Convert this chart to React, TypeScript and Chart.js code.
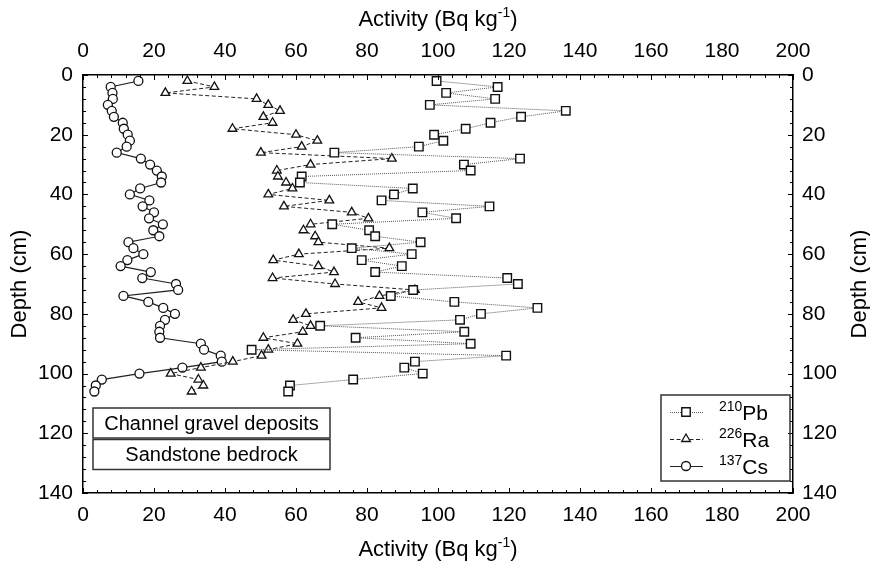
import React, { useEffect, useRef } from "react";
import { Chart, registerables } from "chart.js";

Chart.register(...registerables);

// ---------- data ----------
const depths = [
  2, 4, 6, 8, 10, 12, 14, 16, 18, 20, 22, 24, 26, 28, 30, 32, 34, 36, 38, 40,
  42, 44, 46, 48, 50, 52, 54, 56, 58, 60, 62, 64, 66, 68, 70, 72, 74, 76, 78, 80,
  82, 84, 86, 88, 90, 92, 94, 96, 98, 100, 102, 104, 106,
];

const pb210 = [
  99.6, 116.8, 102.3, 116.1, 97.7, 136.0, 123.4, 114.8, 107.8, 98.9,
  101.5, 94.6, 70.8, 123.1, 107.3, 109.2, 61.6, 61.1, 92.9, 87.6,
  84.1, 114.5, 95.6, 105.1, 70.2, 80.6, 82.3, 95.1, 75.7, 92.6,
  78.5, 89.8, 82.3, 119.5, 122.5, 93.0, 86.7, 104.6, 128.0, 112.1,
  106.2, 66.8, 107.4, 76.8, 109.2, 47.5, 119.2, 93.5, 90.5, 95.7,
  76.1, 58.3, 57.8,
];

const ra226 = [
  29.4, 37.0, 23.2, 48.9, 52.2, 55.5, 50.8, 53.4, 42.1, 60.0,
  66.0, 61.6, 50.1, 87.0, 64.1, 54.6, 54.9, 57.2, 59.0, 52.2,
  69.4, 56.6, 75.7, 80.4, 64.1, 62.1, 65.4, 66.3, 86.3, 60.8,
  53.6, 66.3, 70.7, 53.4, 71.0, 93.5, 83.5, 77.5, 84.1, 62.8,
  59.2, 64.1, 61.9, 50.8, 60.4, 52.2, 50.3, 42.2, 33.2, 24.7,
  32.5, 33.9, 30.6,
];

const cs137 = [
  15.6, 7.8, 8.3, 8.4, 7.0, 8.1, 8.7, 11.2, 11.5, 12.6,
  13.2, 12.3, 9.5, 16.3, 18.9, 20.8, 22.2, 22.0, 16.1, 13.2,
  18.7, 16.8, 20.0, 18.6, 22.5, 19.8, 21.5, 12.8, 14.2, 17.0,
  12.5, 10.6, 19.1, 16.7, 26.2, 26.8, 11.4, 18.4, 22.6, 25.9,
  23.1, 21.7, 21.5, 21.7, 33.2, 34.1, 38.8, 39.1, 28.0, 15.9,
  5.3, 3.6, 3.2,
];

const xMin = 0;
const xMax = 200;
const xStep = 20;
const yMin = 0;
const yMax = 140;
const yStep = 20;

const xTitleMain = "Activity (Bq kg";
const xTitleSup = "-1";
const xTitleEnd = ")";
const yTitle = "Depth (cm)";
const boxLabels = ["Channel gravel deposits", "Sandstone bedrock"];
const legendMass = ["210", "226", "137"];
const legendElement = ["Pb", "Ra", "Cs"];

// ---------- styles ----------
const FONT = "'Liberation Sans', Arial, Helvetica, sans-serif";
const TICK_SIZE = 21;
const TITLE_SIZE = 22;

type Part = { t: string; sup?: boolean };

function drawParts(
  ctx: CanvasRenderingContext2D,
  parts: Part[],
  cx: number,
  cy: number,
  size: number,
  supSize: number,
  rot: number,
  align: "center" | "left" = "center"
) {
  ctx.save();
  ctx.translate(cx, cy);
  ctx.rotate(rot);
  ctx.textBaseline = "alphabetic";
  ctx.textAlign = "left";
  ctx.fillStyle = "#000";
  let w = 0;
  const ws = parts.map((p) => {
    ctx.font = `${p.sup ? supSize : size}px ${FONT}`;
    const m = ctx.measureText(p.t).width;
    w += m;
    return m;
  });
  let x = align === "center" ? -w / 2 : 0;
  const base = size * 0.36;
  parts.forEach((p, i) => {
    ctx.font = `${p.sup ? supSize : size}px ${FONT}`;
    ctx.fillText(p.t, x, p.sup ? base - size * 0.4 : base);
    x += ws[i];
  });
  ctx.restore();
}

function drawMarker(ctx: CanvasRenderingContext2D, style: string, x: number, y: number, r: number) {
  ctx.beginPath();
  if (style === "rect") {
    const s = Math.SQRT1_2 * r;
    ctx.rect(x - s, y - s, 2 * s, 2 * s);
  } else if (style === "triangle") {
    for (let k = 0; k < 3; k++) {
      const a = (k * 2 * Math.PI) / 3;
      const px = x + Math.sin(a) * r;
      const py = y - Math.cos(a) * r;
      if (k === 0) ctx.moveTo(px, py);
      else ctx.lineTo(px, py);
    }
    ctx.closePath();
  } else {
    ctx.arc(x, y, r, 0, Math.PI * 2);
  }
  ctx.fillStyle = "#fff";
  ctx.fill();
  ctx.stroke();
}

const decorPlugin = {
  id: "decor",
  afterDraw(chart: any) {
    const ctx: CanvasRenderingContext2D = chart.ctx;
    const area = chart.chartArea;
    const sx = chart.scales.x;
    const sy = chart.scales.y;

    // inward ticks
    ctx.save();
    ctx.strokeStyle = "#000";
    ctx.lineWidth = 1;
    for (let v = xMin; v <= xMax; v += 4) {
      const major = v % xStep === 0;
      const len = major ? 5 : 3;
      const px = Math.round(sx.getPixelForValue(v)) + 0.5;
      ctx.beginPath();
      ctx.moveTo(px, area.bottom);
      ctx.lineTo(px, area.bottom - len);
      ctx.moveTo(px, area.top);
      ctx.lineTo(px, area.top + len);
      ctx.stroke();
    }
    for (let v = yMin; v <= yMax; v += 4) {
      const major = v % yStep === 0;
      const len = major ? 5 : 3;
      const py = Math.round(sy.getPixelForValue(v)) + 0.5;
      ctx.beginPath();
      ctx.moveTo(area.left, py);
      ctx.lineTo(area.left + len, py);
      ctx.moveTo(area.right, py);
      ctx.lineTo(area.right - len, py);
      ctx.stroke();
    }
    ctx.restore();

    // axis titles
    const cx = (area.left + area.right) / 2;
    const cy = (area.top + area.bottom) / 2;
    const xParts: Part[] = [{ t: xTitleMain }, { t: xTitleSup, sup: true }, { t: xTitleEnd }];
    drawParts(ctx, xParts, cx, 18, TITLE_SIZE, 14, 0);
    drawParts(ctx, xParts, cx, chart.height - 13, TITLE_SIZE, 14, 0);
    drawParts(ctx, [{ t: yTitle }], 18, cy, TITLE_SIZE, 14, -Math.PI / 2);
    drawParts(ctx, [{ t: yTitle }], chart.width - 12, cy, TITLE_SIZE, 14, -Math.PI / 2);

    // zone boxes
    ctx.save();
    ctx.strokeStyle = "#333";
    ctx.lineWidth = 1.5;
    const bx = area.left + 10;
    const bw = 237;
    const bh = 30;
    const tops = [area.top + 333, area.top + 364.5];
    boxLabels.forEach((lab, i) => {
      ctx.strokeRect(bx, tops[i], bw, bh);
      ctx.fillStyle = "#000";
      ctx.font = `20px ${FONT}`;
      ctx.textAlign = "center";
      ctx.textBaseline = "middle";
      ctx.fillText(lab, bx + bw / 2, tops[i] + bh / 2 + 1);
    });
    ctx.restore();

    // legend
    ctx.save();
    const lx = area.right - 132;
    const ly = area.bottom - 98;
    ctx.strokeStyle = "#333";
    ctx.lineWidth = 1.5;
    ctx.strokeRect(lx, ly, 129, 86);
    chart.data.datasets.forEach((ds: any, i: number) => {
      const ry = ly + 17 + i * 27;
      ctx.save();
      ctx.strokeStyle = ds.borderColor;
      ctx.lineWidth = ds.borderWidth;
      ctx.setLineDash(ds.borderDash || []);
      ctx.beginPath();
      ctx.moveTo(lx + 9, ry + 0.5);
      ctx.lineTo(lx + 42, ry + 0.5);
      ctx.stroke();
      ctx.setLineDash([]);
      ctx.strokeStyle = ds.pointBorderColor;
      ctx.lineWidth = ds.pointBorderWidth;
      drawMarker(ctx, ds.pointStyle, lx + 25, ry, ds.pointRadius);
      ctx.restore();
      drawParts(
        ctx,
        [{ t: legendMass[i], sup: true }, { t: legendElement[i] }],
        lx + 58,
        ry,
        21,
        14,
        0,
        "left"
      );
    });
    ctx.restore();
  },
};

function axisCommon(position: string, pad: number) {
  return {
    position,
    grid: { display: true, drawOnChartArea: false, drawTicks: false },
    border: { display: true, color: "#000", width: 1.5 },
    ticks: {
      color: "#000",
      font: { family: FONT, size: TICK_SIZE },
      padding: pad,
      autoSkip: false,
      maxRotation: 0,
    },
  };
}

export default function App() {
  const ref = useRef<HTMLCanvasElement | null>(null);

  useEffect(() => {
    if (!ref.current) return;
    const mk = (vals: number[]) => depths.map((d, i) => ({ x: vals[i], y: d }));
    const chart = new Chart(ref.current, {
      type: "line",
      data: {
        datasets: [
          {
            label: "210Pb",
            data: mk(pb210),
            borderColor: "#555",
            borderWidth: 1,
            borderDash: [1, 1],
            pointStyle: "rect",
            pointRadius: 6,
            pointBorderColor: "#111",
            pointBackgroundColor: "#fff",
            pointBorderWidth: 1.4,
            xAxisID: "x",
            yAxisID: "y",
            tension: 0,
          },
          {
            label: "226Ra",
            data: mk(ra226),
            borderColor: "#222",
            borderWidth: 1,
            borderDash: [4, 2.5],
            pointStyle: "triangle",
            pointRadius: 5,
            pointBorderColor: "#111",
            pointBackgroundColor: "#fff",
            pointBorderWidth: 1.3,
            xAxisID: "x",
            yAxisID: "y",
            tension: 0,
          },
          {
            label: "137Cs",
            data: mk(cs137),
            borderColor: "#222",
            borderWidth: 1.2,
            pointStyle: "circle",
            pointRadius: 4.5,
            pointBorderColor: "#111",
            pointBackgroundColor: "#fff",
            pointBorderWidth: 1.3,
            xAxisID: "x",
            yAxisID: "y",
            tension: 0,
          },
        ] as any,
      },
      options: {
        responsive: false,
        animation: false,
        devicePixelRatio: 1,
        layout: { padding: 0 },
        plugins: { legend: { display: false }, tooltip: { enabled: false } },
        scales: {
          x: {
            type: "linear",
            min: xMin,
            max: xMax,
            ...axisCommon("bottom", 10),
            ticks: { ...axisCommon("bottom", 10).ticks, stepSize: xStep },
            afterFit: (s: any) => {
              s.height = 68;
            },
          },
          x2: {
            type: "linear",
            min: xMin,
            max: xMax,
            ...axisCommon("top", 11),
            ticks: { ...axisCommon("top", 11).ticks, stepSize: xStep },
            afterFit: (s: any) => {
              s.height = 75;
            },
          },
          y: {
            type: "linear",
            reverse: true,
            min: yMin,
            max: yMax,
            ...axisCommon("left", 10),
            ticks: { ...axisCommon("left", 10).ticks, stepSize: yStep },
            afterFit: (s: any) => {
              s.width = 83;
            },
          },
          y2: {
            type: "linear",
            reverse: true,
            min: yMin,
            max: yMax,
            ...axisCommon("right", 9),
            ticks: { ...axisCommon("right", 9).ticks, stepSize: yStep },
            afterFit: (s: any) => {
              s.width = 77;
            },
          },
        } as any,
      },
      plugins: [decorPlugin],
    });
    return () => chart.destroy();
  }, []);

  return (
    <div style={{ position: "absolute", left: 0, top: 0, width: 870, height: 561, background: "#fff" }}>
      <canvas ref={ref} width={870} height={561} style={{ display: "block" }} />
    </div>
  );
}
